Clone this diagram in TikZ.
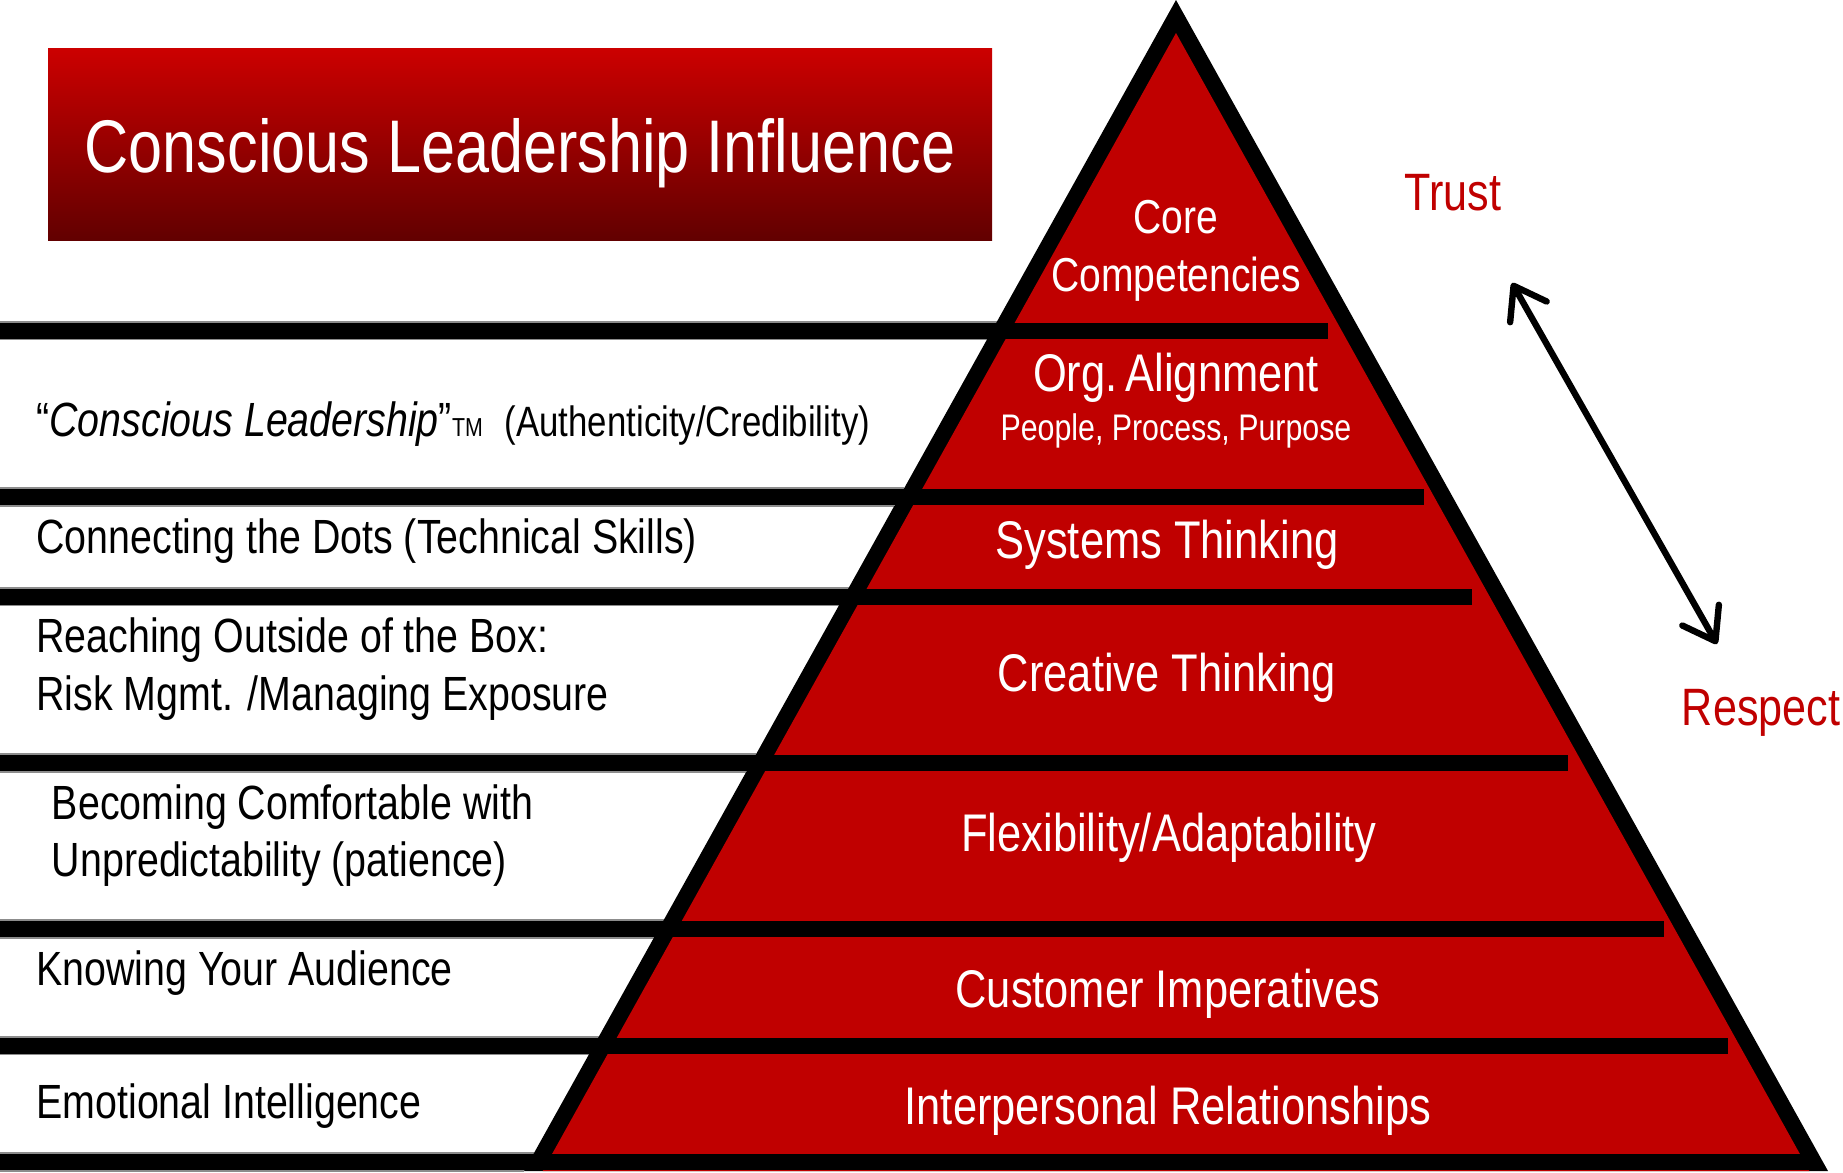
\documentclass[tikz,border=0pt]{standalone}
\usepackage{fontspec}
\setmainfont{Liberation Sans}[FakeStretch=0.82]
\usetikzlibrary{arrows.meta}
\definecolor{pyrred}{RGB}{192,0,0}
\definecolor{titletop}{RGB}{204,0,0}
\definecolor{titlebot}{RGB}{98,0,0}
\definecolor{edgegrey}{RGB}{140,140,140}
\newcommand{\fsz}[2]{\fontsize{#1}{#2}\selectfont}
\begin{document}
\begin{tikzpicture}[x=0.5pt,y=-0.5pt,
  lefttext/.style={anchor=base west,inner sep=0pt,text=black,font=\fsz{24pt}{28.6pt}},
  pyrtext/.style={anchor=base,inner sep=0pt,text=white,font=\fsz{26.5pt}{31pt}},
  coretext/.style={anchor=base,inner sep=0pt,text=white,font=\fsz{23.8pt}{28.6pt}},
  subtext/.style={anchor=base,inner sep=0pt,text=white,font=\fsz{18.5pt}{22pt}},
  sidetext/.style={anchor=base,inner sep=0pt,text=pyrred,font=\fsz{26.3pt}{31pt}},
  titlebox/.style={rectangle,inner sep=0pt,minimum width=472pt,minimum height=96pt,
    top color=titletop,bottom color=titlebot,draw=none},
  titletext/.style={anchor=base,inner sep=0pt,text=white,font=\fsz{37.3pt}{44pt}},
  greyline/.style={draw=edgegrey,line width=0.7pt},
  bar/.style={fill=black},
  dblarrow/.style={line width=3.2pt,
    {Straight Barb[length=15pt,width=21pt,round]}-{Straight Barb[length=15pt,width=21pt,round]}}
]
\useasboundingbox (0,0) rectangle (1843,1173);

% grey edges of the bars on white
\foreach \t/\b in {323/338.5,489/505,589/604.5,755/771,921/937,1038/1053.5,1154/1170}{
  \pgfmathsetmacro{\xt}{1176-0.5568*(\t-1)}
  \pgfmathsetmacro{\xb}{1176-0.5568*(\b+1)}
  \draw[greyline] (0,\t-1) -- (\xt,\t-1);
  \draw[greyline] (0,\b+1) -- (\xb,\b+1);
}

% pyramid
\fill[black] (1176,0) -- (524,1171) -- (1828,1171) -- cycle;
\fill[pyrred] (1176,33) -- (542.6,1171) -- (1809.4,1171) -- cycle;

% bars
\foreach \t/\b/\e in {323/338.5/1328,489/505/1424,589/604.5/1472,755/771/1568,921/937/1664,1038/1053.5/1728,1154/1170/1812}{
  \fill[bar] (0,\t) rectangle (\e,\b);
}

% title
\node[titlebox] (tbox) at (520,144) {};
\node[titletext] (title) at (520,172) {Conscious Leadership Influence};

% pyramid labels
\node[coretext] (core) at (1176,233) {Core};
\node[coretext] (comp) at (1176,291) {Competencies};
\node[pyrtext] (org) at (1176,391.5) {Org.\kern-2pt\ Alignment};
\node[subtext] (opp) at (1176,440.5) {People, Process, Purpose};
\node[pyrtext] (sys) at (1167,558) {Systems Thinking};
\node[pyrtext] (cre) at (1167,691.5) {Creative Thinking};
\node[pyrtext] (flex) at (1169,851.5) {Flexibility/Adaptability};
\node[pyrtext] (cust) at (1168,1007) {Customer Imperatives};
\node[pyrtext] (inter) at (1168,1124) {Interpersonal Relationships};

% left labels
\node[lefttext] (cl) at (36,436.5) {“{\itshape Conscious Leadership}”{\fsz{13pt}{13pt}TM}\hspace{11pt}{\fsz{21.2pt}{26pt}(Authenticity/Credibility)}};
\node[lefttext] (dots) at (36,553.3) {Connecting the Dots (Technical Skills)};
\node[lefttext] (reach1) at (36,652.7) {Reaching Outside of the Box:};
\node[lefttext] (reach2) at (36,710) {Risk Mgmt. /Managing Exposure};
\node[lefttext] (become1) at (51.5,819.3) {Becoming Comfortable with};
\node[lefttext] (become2) at (51.5,876) {Unpredictability (patience)};
\node[lefttext] (know) at (36,985) {Knowing Your Audience};
\node[lefttext] (emo) at (36,1118.3) {Emotional Intelligence};

% side labels and arrow
\node[sidetext] (trust) at (1453,210.5) {Trust};
\node[sidetext] (respect) at (1761,725) {Respect};
\coordinate (arrtop) at (1512,283);
\coordinate (arrbot) at (1717,644);
\draw[dblarrow] (arrtop) -- (arrbot);
\end{tikzpicture}
\end{document}
